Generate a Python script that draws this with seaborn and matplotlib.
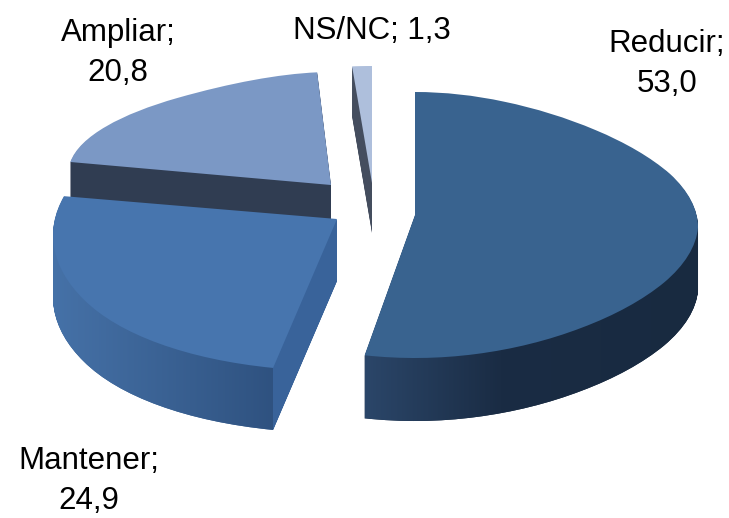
import numpy as np
import matplotlib
matplotlib.use("Agg")
import matplotlib.pyplot as plt
import seaborn as sns
from matplotlib.path import Path
from matplotlib.transforms import Transform, IdentityTransform

categories = ["Reducir", "Mantener", "Ampliar", "NS/NC"]
values = [53.0, 24.9, 20.8, 1.3]
value_labels = ["53,0", "24,9", "20,8", "1,3"]

sns.set_theme(style="white")
plt.rcParams["font.family"] = ["Liberation Sans", "DejaVu Sans"]


class Tilt(Transform):
    """Maps the unit pie onto the page with a perspective-like tilt."""
    input_dims = output_dims = 2
    is_separable = False
    has_inverse = False

    def __init__(self, ax_, ay, rx, a, b, c, d, depth=0):
        super().__init__()
        self.p = (ax_, ay, rx, a, b, c, d, depth)

    def transform_non_affine(self, xy):
        ax_, ay, rx, a, b, c, d, depth = self.p
        xy = np.asarray(xy, float)
        x, y = xy[:, 0], xy[:, 1]
        return np.column_stack([ax_ + rx * x * (1 - c * y - d * y * y),
                                ay - (a * y + b * y * y) + depth])


# drawing order, geometry, top colour, flat side colour, gradient stops for side
slices = [
    dict(i=3, g=(372, 183, 244, 124, -7, 0, 0), depth=50, top="#aebfdc", side="#444d5e", grad=None),
    dict(i=2, g=(331, 185, 249, 130, -17, -.506, .83), depth=55, top="#7b98c5", side="#303d52", grad=None),
    dict(i=0, g=(415, 215, 282, 133, -10, .10, .15), depth=63, top="#39638f", side="#182a40",
         grad=[(365, "#2b4669"), (500, "#1a2c44"), (700, "#182a40")]),
    dict(i=1, g=(337, 219, 281, 130, -22, .09, -.13), depth=62, top="#4775ae", side="#3a6497",
         grad=[(50, "#4672a8"), (272.9, "#2f5280"), (273, "#39639a"), (340, "#39639a")]),
]

fig = plt.figure(figsize=(7.29, 5.18), dpi=100)
ax = fig.add_axes([0, 0, 1, 1])


def slice_wedge(idx, geom, depth, color, z):
    wedges, _ = ax.pie(values, colors=[color] * len(values), startangle=90,
                       counterclock=False, radius=1,
                       wedgeprops=dict(linewidth=0, edgecolor="none"))
    for k, w in enumerate(wedges):
        if k != idx:
            w.remove()
    w = wedges[idx]
    w.set_transform(Tilt(*geom, depth=depth) + ax.transData)
    w.set_zorder(z)
    return w


stacks = []
for n, s in enumerate(slices):
    base = 10 * (n + 1)
    for dz in range(s["depth"], 0, -1):
        stacks.append((s, slice_wedge(s["i"], s["g"], dz, s["side"], base)))
    slice_wedge(s["i"], s["g"], 0, s["top"], base + 2)

ax.set_aspect("auto")
ax.set_xlim(0, 729)
ax.set_ylim(518, 0)
ax.axis("off")
fig.canvas.draw()

for n, s in enumerate(slices):
    if s["grad"] is None:
        continue
    xs = np.arange(0, 729)
    stops_x = [p[0] for p in s["grad"]]
    rgb = np.array([matplotlib.colors.to_rgb(p[1]) for p in s["grad"]])
    img = np.stack([np.interp(xs, stops_x, rgb[:, ch]) for ch in range(3)], axis=1)[None, :, :]
    im = ax.imshow(img, extent=[0, 729, 518, 0], aspect="auto", zorder=10 * (n + 1) + 1,
                   interpolation="nearest")
    paths = []
    for sl, w in stacks:
        if sl is s:
            paths.append(w.get_transform().transform_path(w.get_path()))
    im.set_clip_path(Path.make_compound_path(*paths), IdentityTransform())

ax.set_xlim(0, 729)
ax.set_ylim(518, 0)

label_pos = {0: (667, 64), 1: (89, 481), 2: (118, 53)}
fs = 22.5
for i, (xp, yp) in label_pos.items():
    ax.text(xp, yp, f"{categories[i]};\n{value_labels[i]}", ha="center", va="center",
            fontsize=fs, color="black", linespacing=1.45, zorder=100)
ax.text(372, 31, f"{categories[3]}; {value_labels[3]}", ha="center", va="center",
        fontsize=fs, color="black", zorder=100)

fig.savefig("out.png", dpi=100, facecolor="white")
